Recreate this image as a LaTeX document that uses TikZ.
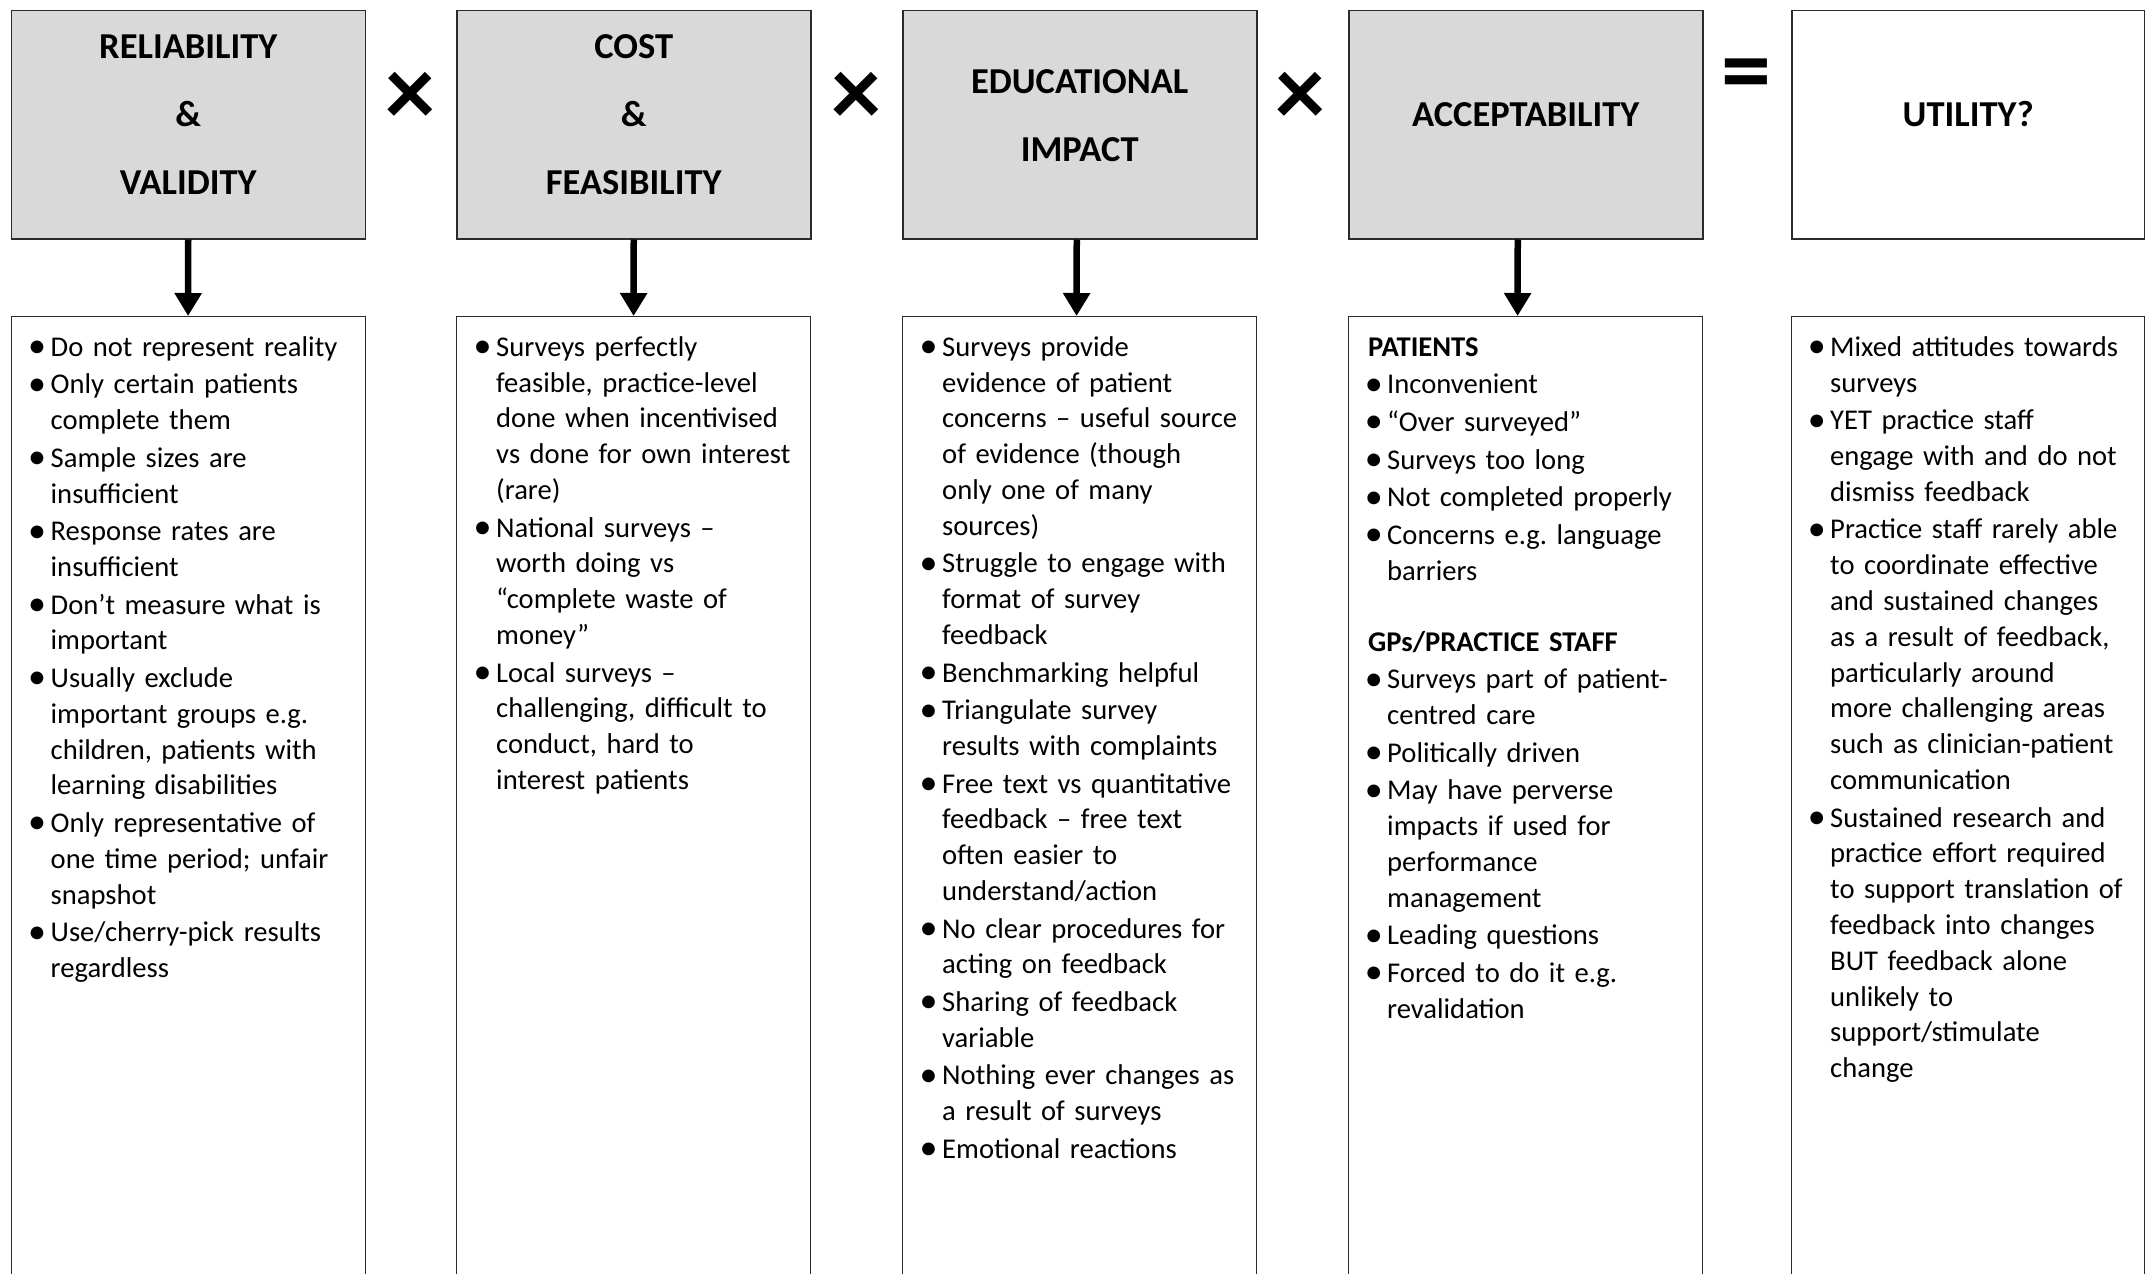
\documentclass[tikz,border=0pt]{standalone}
\usepackage{fontspec}
\setmainfont{Carlito}
\usetikzlibrary{arrows.meta,calc}
\definecolor{headfill}{HTML}{D9D9D9}
\definecolor{edge}{HTML}{2B2B2B}
% bullet hung in the left margin of each item
\newcommand{\bul}{\leavevmode\llap{\makebox[27pt][c]{\raisebox{-1.5pt}{\fontsize{36}{36}\selectfont\textbullet}}}}
\frenchspacing
\begin{document}
\begin{tikzpicture}[x=1pt,y=-1pt,
  headbox/.style={draw=edge, line width=1.5pt, fill=headfill, anchor=north west,
    minimum width=354pt, minimum height=228.5pt, inner sep=0pt},
  plainhead/.style={headbox, fill=white},
  listbox/.style={draw=edge, line width=1.2pt, anchor=north west,
    minimum width=354pt, minimum height=990pt, inner sep=0pt},
  headtext/.style={align=center, inner sep=0pt, font=\fontsize{36.5}{68}\selectfont\bfseries},
  body/.style={anchor=north west, inner sep=0pt, text width=340pt, align=left,
    font=\fontsize{28.6}{35.8}\selectfont\frenchspacing,
    execute at begin node={\setlength{\parindent}{0pt}}},
  op/.style={inner sep=0pt, font=\fontsize{100}{100}\selectfont\bfseries},
  arr/.style={line width=6.5pt, -{Triangle[width=26pt,length=23pt]}}]

\useasboundingbox (0,0) rectangle (2145,1274);
\fill[white] (0,0) rectangle (2145,1274);

% header row
\node[headbox]   (h1) at (10.5,9.5) {};
\node[headbox]   (h2) at (456,9.5) {};
\node[headbox]   (h3) at (902,9.5) {};
\node[headbox]   (h4) at (1348,9.5) {};
\node[plainhead, minimum width=353pt] (h5) at (1791,9.5) {};

\node[headtext] (h1t) at ($(h1.center)+(0,-10)$) {RELIABILITY\\\&\\VALIDITY};
\node[headtext] (h2t) at ($(h2.center)+(0,-10)$) {COST\\\&\\FEASIBILITY};
\node[headtext] (h3t) at ($(h3.center)+(0,-9)$) {EDUCATIONAL\\IMPACT};
\node[headtext] (h4t) at ($(h4.center)+(0,-10)$) {ACCEPTABILITY};
\node[headtext] (h5t) at ($(h5.center)+(0,-10)$) {UTILITY?};

% operators
\node[op] (m1) at (410,99) {×};
\node[op] (m2) at (856,99) {×};
\node[op] (m3) at (1300.5,99) {×};
\node[op] (eq) at (1746.5,81.5) {=};

% list boxes
\node[listbox] (b1) at (10.5,316) {};
\node[listbox] (b2) at (456,316) {};
\node[listbox] (b3) at (902,316) {};
\node[listbox] (b4) at (1348,316) {};
\node[listbox, minimum width=353pt] (b5) at (1791,316) {};

% arrows
\draw[arr] (h1.south) -- (b1.north);
\draw[arr] (h2.south) -- (b2.north);
\draw[arr] ([xshift=-3pt]h3.south) -- ([xshift=-3pt]b3.north);
\draw[arr] ([xshift=-8pt]h4.south) -- ([xshift=-8pt]b4.north);

% list texts
\node[body] (t1) at (50.5,331) {\strut\bul Do not represent reality\\[1.8pt]
\bul Only certain patients\\ complete them\\[1.8pt]
\bul Sample sizes are\\ insufficient\\[1.8pt]
\bul Response rates are\\ insufficient\\[1.8pt]
\bul Don’t measure what is\\ important\\[1.8pt]
\bul Usually exclude\\ important groups e.g.\\ children, patients with\\ learning disabilities\\[1.8pt]
\bul Only representative of\\ one time period; unfair\\ snapshot\\[1.8pt]
\bul Use/cherry-pick results\\ regardless};

\node[body] (t2) at (496,331) {\strut\bul Surveys perfectly\\ feasible, practice-level\\ done when incentivised\\ vs done for own interest\\ (rare)\\[1.8pt]
\bul National surveys –\\ worth doing vs\\ “complete waste of\\ money”\\[1.8pt]
\bul Local surveys –\\ challenging, difficult to\\ conduct, hard to\\ interest patients};

\node[body] (t3) at (942,331) {\strut\bul Surveys provide\\ evidence of patient\\ concerns – useful source\\ of evidence (though\\ only one of many\\ sources)\\[1.8pt]
\bul Struggle to engage with\\ format of survey\\ feedback\\[1.8pt]
\bul Benchmarking helpful\\[1.8pt]
\bul Triangulate survey\\ results with complaints\\[1.8pt]
\bul Free text vs quantitative\\ feedback – free text\\ often easier to\\ understand/action\\[1.8pt]
\bul No clear procedures for\\ acting on feedback\\[1.8pt]
\bul Sharing of feedback\\ variable\\[1.8pt]
\bul Nothing ever changes as\\ a result of surveys\\[1.8pt]
\bul Emotional reactions};

\node[body] (t4) at (1387,331) {\strut\hspace*{-19pt}\textbf{PATIENTS}\\[1.8pt]
\bul Inconvenient\\[1.8pt]
\bul “Over surveyed”\\[1.8pt]
\bul Surveys too long\\[1.8pt]
\bul Not completed properly\\[1.8pt]
\bul Concerns e.g. language\\ barriers\\[35.3pt]
\hspace*{-19pt}\textbf{GPs/PRACTICE STAFF}\\[1.8pt]
\bul Surveys part of patient-\\ centred care\\[1.8pt]
\bul Politically driven\\[1.8pt]
\bul May have perverse\\ impacts if used for\\ performance\\ management\\[1.8pt]
\bul Leading questions\\[1.8pt]
\bul Forced to do it e.g.\\ revalidation};

\node[body] (t5) at (1830,331) {\strut\bul Mixed attitudes towards\\ surveys\\[1.8pt]
\bul YET practice staff\\ engage with and do not\\ dismiss feedback\\[1.8pt]
\bul Practice staff rarely able\\ to coordinate effective\\ and sustained changes\\ as a result of feedback,\\ particularly around\\ more challenging areas\\ such as clinician-patient\\ communication\\[1.8pt]
\bul Sustained research and\\ practice effort required\\ to support translation of\\ feedback into changes\\ BUT feedback alone\\ unlikely to\\ support/stimulate\\ change};
\end{tikzpicture}
\end{document}
